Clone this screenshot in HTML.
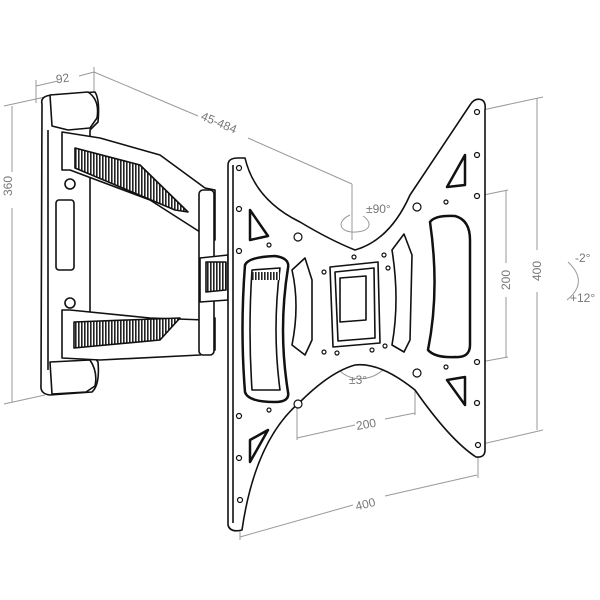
<!DOCTYPE html>
<html><head><meta charset="utf-8"><style>
html,body{margin:0;padding:0;background:#fff;width:600px;height:600px;overflow:hidden}
svg{display:block}
text{font-family:"Liberation Sans",sans-serif;fill:#777;font-size:12px}
</style></head><body>
<svg width="600" height="600" viewBox="0 0 600 600" xmlns="http://www.w3.org/2000/svg">
<defs>
<pattern id="h" width="3" height="3" patternUnits="userSpaceOnUse">
<rect width="3" height="3" fill="#fff"/><rect width="1.6" height="3" fill="#222"/>
</pattern>
</defs>
<g stroke="#999" stroke-width="1" fill="none">
<line x1="36" y1="80" x2="36" y2="103"/><line x1="94" y1="67" x2="94" y2="92"/>
<line x1="36" y1="86" x2="58" y2="81"/><line x1="79" y1="76" x2="94" y2="72"/>
<line x1="94" y1="72" x2="198" y2="116"/><line x1="248" y1="138" x2="352" y2="184"/>
<line x1="352" y1="184" x2="352" y2="240"/>
<line x1="4" y1="106" x2="45" y2="97"/><line x1="12" y1="106" x2="12" y2="172"/><line x1="12" y1="208" x2="12" y2="402"/>
<line x1="4" y1="404" x2="45" y2="395"/>
<line x1="478" y1="111" x2="543" y2="97"/><line x1="478" y1="445" x2="543" y2="430"/>
<line x1="537" y1="98" x2="537" y2="250"/><line x1="537" y1="292" x2="537" y2="430"/>
<line x1="420" y1="208" x2="508" y2="190"/><line x1="420" y1="373" x2="508" y2="357"/>
<line x1="506" y1="190" x2="506" y2="263"/><line x1="506" y1="297" x2="506" y2="357"/>
<line x1="297" y1="405" x2="297" y2="440"/><line x1="415" y1="390" x2="415" y2="415"/>
<line x1="297" y1="438" x2="355" y2="425"/><line x1="385" y1="419" x2="415" y2="413"/>
<line x1="240" y1="525" x2="240" y2="540"/><line x1="478" y1="452" x2="478" y2="478"/>
<line x1="240" y1="537" x2="353" y2="505"/><line x1="385" y1="496" x2="477" y2="475"/>
<path d="M350 215 C335 222 340 233 356 232 C372 231 372 222 363 216"/>
<path d="M340 371 C352 382 370 381 383 370"/>
<path d="M568 262 C582 275 582 288 567 300"/>
</g>
<text x="56" y="82" transform="rotate(-8 66 79)">92</text>
<text x="200" y="128" transform="rotate(23 222 124)">45-484</text>
<text x="16" y="190" transform="rotate(-90 12 190)" text-anchor="middle">360</text>
<text x="366" y="213" font-size="11">±90°</text>
<text x="349" y="384" font-size="11">±3°</text>
<text x="356" y="428" transform="rotate(-10 368 424)">200</text>
<text x="355" y="507" transform="rotate(-14 370 502)">400</text>
<text x="510" y="280" transform="rotate(-90 510 280)" text-anchor="middle">200</text>
<text x="541" y="271" transform="rotate(-90 541 271)" text-anchor="middle">400</text>
<text x="575" y="262" font-size="11">-2°</text>
<text x="570" y="302" font-size="11">+12°</text>

<g stroke="#111" stroke-width="1.6" fill="#fff" stroke-linejoin="round">
<path d="M42 104 Q40 96 52 95 L95 92 Q100 100 98 122 L90 130 L90 352 L98 362 Q100 385 92 392 L50 395 Q40 394 41 385 Z"/>
<path d="M48 130 L48 370"/>
<rect x="56" y="200" width="18" height="70" rx="3"/>
<path d="M50 95 L88 92 Q100 100 97 118 L90 128 L68 130 L52 126 Z"/>
<path d="M50 362 L90 360 Q98 372 95 386 L86 392 L52 394 Z"/>
<path d="M62 132 L100 138 L160 155 L205 188 L215 190 L215 240 L200 232 L150 200 L70 170 L62 170 Z"/>
<path d="M75 148 L140 165 L188 212 L175 210 L75 168 Z" fill="url(#h)"/>
<path d="M62 310 L70 310 L150 318 L205 320 L215 318 L215 350 L200 355 L100 360 L62 358 Z"/>
<path d="M74 322 L180 318 L160 340 L74 348 Z" fill="url(#h)"/>
<rect x="199" y="190" width="15" height="165" rx="4"/>
<circle cx="70" cy="184" r="5"/><circle cx="70" cy="303" r="5"/>
<path d="M200 258 L228 255 L228 300 L200 302 Z"/>
<path d="M206 262 L226 262 L226 290 L206 292 Z" fill="url(#h)"/>
<path d="M228 165 Q228 158 238 158 L245 158 Q255 200 300 222 Q330 240 355 250 Q390 240 410 195 Q440 150 470 105 Q475 97 482 100 Q486 102 485 110 L485 450 Q485 458 476 457 Q450 440 415 390 Q380 362 355 365 Q330 372 300 402 Q255 440 242 530 Q230 533 228 525 Z"/>
<path d="M233 165 L233 523" fill="none"/>
<path d="M245 265 Q248 257 275 256 Q290 258 288 268 Q278 330 288 392 Q290 402 275 402 Q248 402 245 392 Q240 330 245 265 Z" stroke-width="2.5"/>
<path d="M252 270 L280 268 Q272 330 280 390 L252 390 Q248 330 252 270 Z"/>
<rect x="252" y="272" width="28" height="8" fill="url(#h)" stroke="none"/>
<path d="M430 222 Q435 215 455 216 Q470 220 470 240 Q470 300 470 345 Q470 358 455 357 Q435 358 428 350 Q440 290 430 222 Z" stroke-width="2.5"/>
<path d="M292 270 L305 258 L312 280 L312 340 L305 355 L292 345 Q300 305 292 270 Z"/>
<path d="M392 250 L404 234 L412 255 L410 340 L404 352 L392 345 Q400 300 392 250 Z"/>
<path d="M330 267 L378 262 L380 343 L333 347 Z"/>
<path d="M335 272 L374 268 L375 338 L338 341 Z"/>
<path d="M340 278 L366 276 L366 320 L340 322 Z"/>
<path d="M250 210 L268 236 L250 240 Z" stroke-width="2.5"/>
<path d="M465 155 L465 185 L447 187 Z" stroke-width="2.5"/>
<path d="M250 440 L268 430 L250 462 Z" stroke-width="2.5"/>
<path d="M447 380 L465 377 L465 405 Z" stroke-width="2.5"/>
</g>
<g stroke="#111" stroke-width="1.2" fill="#fff">
<circle cx="239" cy="168" r="2.5"/><circle cx="239" cy="209" r="2.5"/><circle cx="239" cy="251" r="2.5"/>
<circle cx="239" cy="416" r="2.5"/><circle cx="239" cy="458" r="2.5"/><circle cx="240" cy="500" r="2.5"/>
<circle cx="477" cy="112" r="2.5"/><circle cx="477" cy="155" r="2.5"/><circle cx="477" cy="196" r="2.5"/>
<circle cx="477" cy="362" r="2.5"/><circle cx="477" cy="403" r="2.5"/><circle cx="478" cy="445" r="2.5"/>
<circle cx="298" cy="237" r="4"/><circle cx="417" cy="207" r="4"/><circle cx="298" cy="404" r="4"/><circle cx="417" cy="373" r="4"/>
<circle cx="269" cy="245" r="2"/><circle cx="446" cy="202" r="2"/><circle cx="269" cy="410" r="2"/><circle cx="446" cy="367" r="2"/>
<circle cx="354" cy="257" r="2"/><circle cx="384" cy="255" r="2"/><circle cx="324" cy="272" r="2"/><circle cx="388" cy="268" r="2"/>
<circle cx="324" cy="352" r="2"/><circle cx="337" cy="353" r="2"/><circle cx="372" cy="350" r="2"/><circle cx="385" cy="346" r="2"/>
</g>
</svg>
</body></html>
